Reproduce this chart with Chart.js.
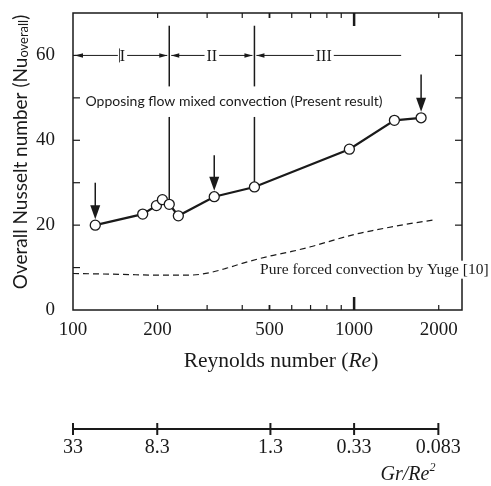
<!DOCTYPE html>
<html>
<head>
<meta charset="utf-8">
<script src="https://cdn.jsdelivr.net/npm/chart.js@4.4.1/dist/chart.umd.min.js"></script>
<style>
  html, body { margin: 0; padding: 0; background: #fff; }
  #wrap { width: 491px; height: 486px; }
</style>
</head>
<body>
<div id="wrap"><canvas id="chart" width="491" height="486"></canvas></div>
<script>
// Present result (opposing flow mixed convection)
const reData = [120, 177, 198, 208, 220, 237, 318, 442, 962, 1391, 1731];
const nuData = [20.0, 22.6, 24.6, 26.0, 24.9, 22.2, 26.7, 29.0, 37.9, 44.7, 45.3];

// Pure forced convection by Yuge [10]
const reYuge = [100, 150, 200, 250, 290, 350, 400, 500, 600, 700, 800, 1000, 1200, 1500, 1950];
const nuYuge = [8.6, 8.4, 8.2, 8.2, 8.5, 9.8, 11.0, 12.7, 13.8, 14.9, 16.0, 17.8, 18.9, 20.1, 21.3];

// axes
const reLabels = [100, 200, 500, 1000, 2000];
const reMinor = [200, 300, 400, 500, 600, 700, 800, 900, 1000, 2000];
const nuLabels = [0, 20, 40, 60];
const nuMinor = [10, 20, 30, 40, 50, 60];

// flow regimes
const regimeNames = ['I', 'II', 'III'];
const regimeBounds = [100, 220, 442, 1470];
const regimeNu = 60;

// arrows marking selected cases
const arrowRe = [120, 318, 1731];
const arrowTopNu = [30, 36.5, 55.5];

// secondary scale Gr/Re^2 (Gr = 330000)
const grLabels = ['33', '8.3', '1.3', '0.33', '0.083'];
const grValues = [33, 8.3, 1.3, 0.33, 0.083];
const grashof = 330000;

const ink = '#1a1a1a';
const serif = '"Liberation Serif", "Times New Roman", serif';
const sans = 'Lato, "Open Sans", sans-serif';

function line(ctx, x1, y1, x2, y2) {
    ctx.beginPath();
    ctx.moveTo(x1, y1);
    ctx.lineTo(x2, y2);
    ctx.stroke();
}

function arrowHead(ctx, x, y, dx, dy, len, half) {
    // tip at (x, y), pointing along (dx, dy)
    ctx.beginPath();
    ctx.moveTo(x, y);
    ctx.lineTo(x - dx * len - dy * half, y - dy * len - dx * half);
    ctx.lineTo(x - dx * len + dy * half, y - dy * len + dx * half);
    ctx.closePath();
    ctx.fill();
}

const figurePlugin = {
    id: 'figure',
    beforeDraw(chart) {
        const ctx = chart.ctx;
        ctx.save();
        ctx.fillStyle = '#fff';
        ctx.fillRect(0, 0, chart.width, chart.height);
        ctx.restore();
    },
    afterDatasetsDraw(chart) {
        const { ctx, chartArea: a, scales: { x, y } } = chart;
        ctx.save();
        ctx.strokeStyle = ink;
        ctx.fillStyle = ink;

        // frame
        ctx.lineWidth = 1.5;
        ctx.strokeRect(a.left, a.top, a.right - a.left, a.bottom - a.top);

        // inward tick marks
        reMinor.forEach(v => {
            const px = x.getPixelForValue(v);
            const big = v === 1000;
            ctx.lineWidth = big ? 2.5 : (v === 500 ? 1.8 : 1.2);
            const len = big ? 13 : 5;
            line(ctx, px, a.bottom, px, a.bottom - len);
            line(ctx, px, a.top, px, a.top + len);
        });
        ctx.lineWidth = 1.2;
        nuMinor.forEach(v => {
            const py = y.getPixelForValue(v);
            line(ctx, a.left, py, a.left + 7, py);
            line(ctx, a.right, py, a.right - 7, py);
        });

        // regime boundaries
        ctx.lineWidth = 1.5;
        [regimeBounds[1], regimeBounds[2]].forEach(re => {
            const px = x.getPixelForValue(re);
            const idx = reData.indexOf(re);
            const markerY = y.getPixelForValue(nuData[idx]) - 5;
            line(ctx, px, y.getPixelForValue(67), px, y.getPixelForValue(52.7));
            line(ctx, px, y.getPixelForValue(45.5), px, markerY);
        });

        // regime brackets
        const ry = y.getPixelForValue(regimeNu);
        ctx.lineWidth = 1;
        ctx.font = '16px ' + serif;
        ctx.textAlign = 'center';
        ctx.textBaseline = 'middle';
        regimeNames.forEach((name, i) => {
            const x1 = x.getPixelForValue(regimeBounds[i]) + 2;
            const x2 = x.getPixelForValue(regimeBounds[i + 1]) - (i < 2 ? 2 : 0);
            line(ctx, x1, ry, x2, ry);
            arrowHead(ctx, x1, ry, -1, 0, 8, 2.2);
            if (i < 2) arrowHead(ctx, x2, ry, 1, 0, 8, 2.2);
            const cx = i === 0 ? x.getPixelForValue(150) : (x1 + x2) / 2 + (i === 2 ? -5 : 0);
            const w = ctx.measureText(name).width + 4;
            ctx.fillStyle = '#fff';
            ctx.fillRect(cx - w / 2, ry - 6, w, 12);
            ctx.fillStyle = ink;
            ctx.fillText(name, cx, ry + 1);
            if (i === 0) {
                ctx.lineWidth = 0.8;
                line(ctx, cx - 3, ry - 7, cx - 3, ry + 7);
                ctx.lineWidth = 1;
            }
        });

        // arrows above selected points
        ctx.lineWidth = 1.5;
        arrowRe.forEach((re, i) => {
            const px = x.getPixelForValue(re);
            const idx = reData.indexOf(re);
            const tipY = y.getPixelForValue(nuData[idx]) - 6;
            line(ctx, px, y.getPixelForValue(arrowTopNu[i]), px, tipY - 10);
            arrowHead(ctx, px, tipY, 0, 1, 14, 5);
        });

        // annotations
        ctx.font = '14px ' + sans;
        ctx.textAlign = 'center';
        ctx.fillText('Opposing flow mixed convection (Present result)',
            x.getPixelForValue(374), y.getPixelForValue(49.1));

        ctx.font = '15.5px ' + serif;
        ctx.textAlign = 'left';
        const yugeText = 'Pure forced convection by Yuge [10]';
        const tx = x.getPixelForValue(463);
        const ty = y.getPixelForValue(9.5);
        const tw = ctx.measureText(yugeText).width;
        ctx.fillStyle = '#fff';
        ctx.fillRect(tx - 2, ty - 9, tw + 4, 18);
        ctx.fillStyle = ink;
        ctx.fillText(yugeText, tx, ty);

        // y axis title with subscript
        ctx.save();
        ctx.translate(21, 152);
        ctx.rotate(-Math.PI / 2);
        const mainT = 'Overall Nusselt number (Nu';
        const subT = 'overall';
        ctx.font = '19px ' + sans;
        const w1 = ctx.measureText(mainT).width;
        const w3 = ctx.measureText(')').width;
        ctx.font = '13px ' + sans;
        const w2 = ctx.measureText(subT).width;
        let sx = -(w1 + w2 + w3) / 2;
        ctx.textAlign = 'left';
        ctx.font = '19px ' + sans;
        ctx.fillText(mainT, sx, 0);
        ctx.font = '13px ' + sans;
        ctx.fillText(subT, sx + w1, 3);
        ctx.font = '19px ' + sans;
        ctx.fillText(')', sx + w1 + w2, 0);
        ctx.restore();

        // x axis title with italic Re
        const p1 = 'Reynolds number (', p2 = 'Re', p3 = ')';
        ctx.font = '21.5px ' + serif;
        const a1 = ctx.measureText(p1).width, a3 = ctx.measureText(p3).width;
        ctx.font = 'italic 21.5px ' + serif;
        const a2 = ctx.measureText(p2).width;
        let xx = 281 - (a1 + a2 + a3) / 2;
        ctx.textAlign = 'left';
        ctx.font = '21.5px ' + serif;
        ctx.fillText(p1, xx, 361);
        ctx.font = 'italic 21.5px ' + serif;
        ctx.fillText(p2, xx + a1, 361);
        ctx.font = '21.5px ' + serif;
        ctx.fillText(p3, xx + a1 + a2, 361);

        // secondary Gr/Re^2 scale
        const gy = 429;
        const gx = grValues.map(g => x.getPixelForValue(Math.sqrt(grashof / g)));
        ctx.lineWidth = 2;
        line(ctx, gx[0], gy, gx[gx.length - 1], gy);
        ctx.font = '20px ' + serif;
        ctx.textAlign = 'center';
        gx.forEach((px, i) => {
            line(ctx, px, gy - 6, px, gy + 6);
            ctx.fillText(grLabels[i], px, 448);
        });
        ctx.font = 'italic 20px ' + serif;
        const g1 = 'Gr/Re';
        const gw = ctx.measureText(g1).width;
        ctx.textAlign = 'left';
        ctx.fillText(g1, 408 - gw / 2 - 3, 475);
        ctx.font = 'italic 12px ' + serif;
        ctx.fillText('2', 408 + gw / 2 - 3, 468);

        ctx.restore();
    }
};

new Chart(document.getElementById('chart'), {
    type: 'line',
    data: {
        datasets: [
            {
                label: 'Present result',
                data: reData.map((re, i) => ({ x: re, y: nuData[i] })),
                borderColor: ink,
                borderWidth: 2.2,
                pointRadius: 5,
                pointBackgroundColor: '#fff',
                pointBorderColor: ink,
                pointBorderWidth: 1.3,
                order: 0
            },
            {
                label: 'Yuge',
                data: reYuge.map((re, i) => ({ x: re, y: nuYuge[i] })),
                borderColor: ink,
                borderWidth: 1.2,
                borderDash: [6, 4],
                pointRadius: 0,
                cubicInterpolationMode: 'monotone',
                order: 1
            }
        ]
    },
    options: {
        responsive: false,
        animation: false,
        layout: { padding: { left: 0, right: 29, top: 13, bottom: 0 } },
        plugins: { legend: { display: false }, tooltip: { enabled: false } },
        scales: {
            x: {
                type: 'logarithmic',
                min: 100,
                max: 2420,
                grid: { display: false, drawTicks: false },
                border: { display: false },
                afterBuildTicks: s => { s.ticks = reLabels.map(v => ({ value: v })); },
                afterFit: s => {
                    s.height = 176;
                    s.paddingLeft = 0;
                    s.paddingRight = 0;
                },
                ticks: {
                    color: ink,
                    padding: 9,
                    maxRotation: 0,
                    autoSkip: false,
                    font: { family: serif, size: 19 },
                    callback: v => String(v)
                }
            },
            y: {
                min: 0,
                max: 70,
                grid: { display: false, drawTicks: false },
                border: { display: false },
                afterBuildTicks: s => { s.ticks = nuLabels.map(v => ({ value: v })); },
                afterFit: s => {
                    s.width = 73;
                    s.paddingTop = 0;
                    s.paddingBottom = 0;
                },
                ticks: {
                    color: ink,
                    padding: 18,
                    font: { family: serif, size: 19 },
                    callback: v => String(v)
                }
            }
        }
    },
    plugins: [figurePlugin]
});
</script>
</body>
</html>
